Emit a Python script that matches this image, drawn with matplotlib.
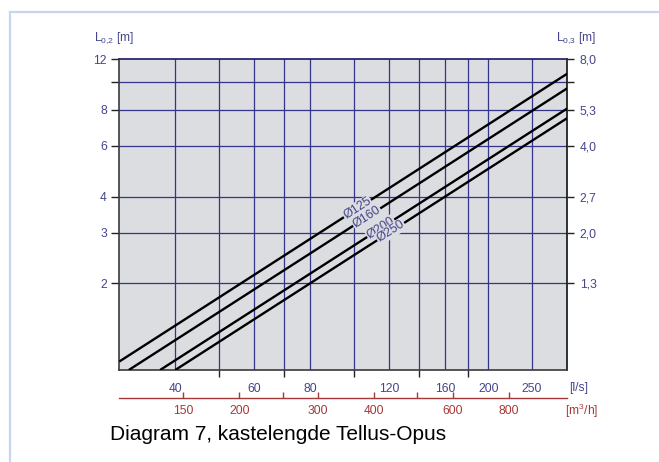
import numpy as np
import matplotlib
matplotlib.use("Agg")
import matplotlib.pyplot as plt
from matplotlib.ticker import FixedLocator, NullFormatter, NullLocator
from matplotlib.lines import Line2D

plt.rcParams['font.family'] = ['Liberation Sans', 'DejaVu Sans']
plt.rcParams['mathtext.fontset'] = 'custom'
plt.rcParams['mathtext.rm'] = 'Liberation Sans'
plt.rcParams['mathtext.it'] = 'Liberation Sans'

# Duct diameters and their straight lines (flow in l/s -> length L0,2 in m)
diameters = ['Ø125', 'Ø160', 'Ø200', 'Ø250']
flow_start = [30.0, 31.5, 37.0, 40.0]
length_start = [1.07, 1.0, 1.0, 1.0]
flow_end = [300.0, 300.0, 300.0, 300.0]
length_end = [10.7, 9.52, 8.1, 7.5]
label_flow = [102.0, 107.0, 115.0, 121.0]

# Left / right length axes
left_ticks = [2, 3, 4, 6, 8, 10, 12]
left_labels = ['2', '3', '4', '6', '8', '', '12']
right_labels = ['1,3', '2,0', '2,7', '4,0', '5,3', '', '8,0']

# Flow axis in l/s
ls_grid = [40, 50, 60, 70, 80, 100, 120, 140, 160, 180, 200, 250]
ls_labeled = [40, 60, 80, 120, 160, 200, 250]

# Flow axis in m3/h
m3h_ticks = [150, 200, 250, 300, 400, 500, 600, 800]
m3h_labeled = [150, 200, 300, 400, 600, 800]

BLUE = '#45458c'
RED = '#a63838'
GRID = '#34348a'
BG = '#dcdde0'
FS = 8.7

W, H = 659, 462
fig = plt.figure(figsize=(W / 100, H / 100), dpi=100)
fig.patch.set_facecolor('white')

# light frame around the figure
fig.add_artist(Line2D([9.5 / W, 1.0], [1 - 12 / H, 1 - 12 / H], transform=fig.transFigure,
                      color='#c9d5f0', lw=1.6))
fig.add_artist(Line2D([9.5 / W, 9.5 / W], [0.0, 1 - 12 / H], transform=fig.transFigure,
                      color='#c9d5f0', lw=1.6))

x0, x1 = 119.3, 567.3
y0, y1 = 59.3, 370.0
ax = fig.add_axes([x0 / W, 1 - y1 / H, (x1 - x0) / W, (y1 - y0) / H])
ax.set_facecolor(BG)
ax.set_xscale('log')
ax.set_yscale('log')
ax.set_xlim(30, 300)
ax.set_ylim(1, 12)

# grid
for v in ls_grid:
    ax.axvline(v, color=GRID, lw=0.9, zorder=1)
for v in left_ticks[:-1]:
    ax.axhline(v, color=GRID, lw=0.9, zorder=1)

for s in ['left', 'bottom']:
    ax.spines[s].set_color('#3a3a3a')
    ax.spines[s].set_linewidth(1.2)
ax.spines['top'].set_color('#2a2a70')
ax.spines['top'].set_linewidth(1.3)
ax.spines['right'].set_color('#111111')
ax.spines['right'].set_linewidth(1.2)

# x ticks: labeled without marks, unlabeled with short marks
ax.xaxis.set_major_locator(FixedLocator(ls_labeled))
ax.set_xticklabels([str(v) for v in ls_labeled])
ax.xaxis.set_minor_locator(FixedLocator([v for v in ls_grid if v not in ls_labeled]))
ax.xaxis.set_minor_formatter(NullFormatter())
ax.tick_params(axis='x', which='major', length=0, pad=9.5, labelsize=FS, labelcolor=BLUE)
ax.tick_params(axis='x', which='minor', length=5, width=1, color='#222222')

ax.yaxis.set_major_locator(FixedLocator(left_ticks))
ax.set_yticklabels(left_labels)
ax.yaxis.set_minor_locator(NullLocator())
ax.tick_params(axis='y', which='major', length=6, width=1, color='#222222', pad=3,
               labelsize=FS, labelcolor=BLUE)

axr = ax.twinx()
axr.set_yscale('log')
axr.set_ylim(1, 12)
axr.yaxis.set_major_locator(FixedLocator(left_ticks))
axr.set_yticklabels(right_labels)
axr.yaxis.set_minor_locator(NullLocator())
axr.tick_params(axis='y', which='major', length=5, width=1, color='#222222', pad=4,
                labelsize=FS, labelcolor=BLUE)
for s in axr.spines.values():
    s.set_visible(False)

# diameter lines
for name, qs, ls, qe, le, qlab in zip(diameters, flow_start, length_start, flow_end,
                                      length_end, label_flow):
    ax.plot([qs, qe], [ls, le], color='black', lw=1.7, zorder=3, solid_capstyle='butt')
    slope = np.log10(le / ls) / np.log10(qe / qs)
    llab = ls * (qlab / qs) ** slope
    p1 = ax.transData.transform((qs, ls))
    p2 = ax.transData.transform((qe, le))
    ang = np.degrees(np.arctan2(p2[1] - p1[1], p2[0] - p1[0]))
    ax.text(qlab, llab, name, rotation=ang, rotation_mode='anchor', ha='center', va='center',
            fontsize=9, color=BLUE, zorder=4,
            bbox=dict(facecolor=BG, edgecolor='none', pad=0.5))

# axis titles
fig.text(94 / W, 1 - 38 / H, r'L$_{0{,}2}$ [m]', fontsize=FS, color=BLUE, ha='left', va='center')
fig.text(596 / W, 1 - 38 / H, r'L$_{0{,}3}$ [m]', fontsize=FS, color=BLUE, ha='right', va='center')
fig.text(569 / W, 1 - 387.5 / H, '[l/s]', fontsize=FS, color=BLUE, ha='left', va='center')

# second flow axis in m3/h
ym = 398.3
ax2 = fig.add_axes([x0 / W, 1 - ym / H, (x1 - x0) / W, 0.0001])
ax2.set_facecolor('none')
ax2.set_xscale('log')
ax2.set_xlim(30 * 3.6, 300 * 3.6)
for s in ['left', 'right', 'top']:
    ax2.spines[s].set_visible(False)
ax2.spines['bottom'].set_color(RED)
ax2.spines['bottom'].set_linewidth(1.0)
ax2.yaxis.set_major_locator(NullLocator())
ax2.xaxis.set_major_locator(FixedLocator(m3h_ticks))
ax2.xaxis.set_minor_locator(NullLocator())
ax2.set_xticklabels([str(v) if v in m3h_labeled else '' for v in m3h_ticks])
ax2.tick_params(axis='x', direction='in', length=4, width=1, color=RED, pad=4.5,
                labelsize=FS, labelcolor=RED)
fig.text(565 / W, 1 - 411 / H, r'[m$^3$/h]', fontsize=FS, color=RED, ha='left', va='center')

fig.text(110.5 / W, 1 - 435 / H, 'Diagram 7, kastelengde Tellus-Opus', fontsize=15,
         color='black', ha='left', va='center')

fig.savefig('out.png', dpi=100, facecolor='white')
